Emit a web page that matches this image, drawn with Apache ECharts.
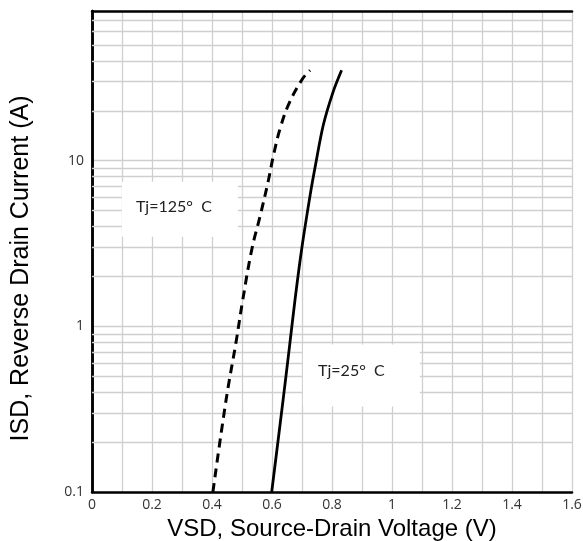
<!DOCTYPE html>
<html><head><meta charset="utf-8">
<script src="https://cdn.jsdelivr.net/npm/echarts@6/dist/echarts.min.js"></script>
<style>html,body{margin:0;padding:0;background:#fff}#c{width:583px;height:541px}</style>
</head><body><div id="c"></div>
<script>
// Data
const vsd125 = [0.403, 0.447, 0.480, 0.503, 0.533, 0.560, 0.587, 0.607, 0.630, 0.660, 0.703, 0.727];
const isd125 = [0.1, 0.36, 0.80, 1.46, 2.93, 4.6, 7.46, 11.2, 16.3, 22.8, 31.4, 35.1];
const vsd25 = [0.599, 0.637, 0.657, 0.677, 0.699, 0.727, 0.745, 0.771, 0.804, 0.832];
const isd25 = [0.1, 0.36, 0.72, 1.46, 2.93, 6.17, 9.4, 16.4, 26.1, 35.1];
const xTicks = [0, 0.2, 0.4, 0.6, 0.8, 1, 1.2, 1.4, 1.6];
const yMajor = [0.1, 1, 10];
const yMinor = [0.2,0.3,0.4,0.5,0.6,0.7,0.8,0.9,2,3,4,5,6,7,8,9,20,30,40,50,60,70];
const label125 = 'Tj=125°  C';
const label25 = 'Tj=25°  C';
const anchor125 = [0.293, 5.08];
const anchor25 = [0.898, 0.505];

const chart = echarts.init(document.getElementById('c'));
const gridCol = '#cfcfcf';
const tickFont = {color:'#333', fontSize:14, fontFamily:'Open Sans'};
chart.setOption({
  animation:false,
  grid:{left:92,right:11,top:11,bottom:49, containLabel:false, outerBoundsMode:'none'},
  xAxis:[{
    type:'value', min:0, max:1.6, interval:0.2,
    name:'VSD, Source-Drain Voltage (V)', nameLocation:'middle', nameGap:20,
    nameTextStyle:{fontSize:24, color:'#000', fontFamily:'Liberation Sans'},
    axisLine:{show:true, lineStyle:{color:'#000', width:2.5}},
    axisTick:{show:false},
    axisLabel:{...tickFont, margin:6, formatter:v=>String(+v.toFixed(1))},
    splitLine:{show:true, lineStyle:{color:gridCol, width:1.3}},
    minorTick:{show:false, splitNumber:2},
    minorSplitLine:{show:true, lineStyle:{color:gridCol, width:1.3}}
  },{
    type:'value', min:0, max:1.6, position:'top',
    axisLine:{show:true, lineStyle:{color:'#000', width:2.5}},
    axisTick:{show:false}, axisLabel:{show:false}, splitLine:{show:false}
  }],
  yAxis:[{
    type:'log', logBase:10, min:0.1, max:80,
    name:'ISD, Reverse Drain Current (A)', nameLocation:'middle', nameGap:58,
    nameTextStyle:{fontSize:25, color:'#000', fontFamily:'Liberation Sans', padding:[0,34,0,0]},
    axisLine:{show:true, lineStyle:{color:'#000', width:2.5}},
    axisTick:{show:false},
    axisLabel:{...tickFont, margin:8, showMaxLabel:false, formatter:v=>{
      const l=Math.log10(v); return Math.abs(l-Math.round(l))<1e-6 ? String(+(+v).toPrecision(3)) : '';}},
    splitLine:{show:true, lineStyle:{color:gridCol, width:1.3}}
  },{
    type:'log', logBase:10, min:0.1, max:80, position:'right',
    axisLine:{show:true, lineStyle:{color:'#000', width:2.5}},
    axisTick:{show:false}, axisLabel:{show:false}, splitLine:{show:false}
  }],
  series:[
    {type:'line', data:[], z:1, silent:true,
     markLine:{z:1, silent:true, symbol:['none','none'], label:{show:false},
       lineStyle:{color:gridCol, width:1.3, type:'solid'},
       data:yMinor.map(v=>({yAxis:v}))}},
    {type:'scatter', z:2, silent:true, symbol:'rect', symbolSize:[116,55],
     itemStyle:{color:'#fff', opacity:1},
     label:{show:true, position:'inside', offset:[-6,-3], formatter:label125, color:'#222', fontSize:16, fontFamily:'Lato'},
     data:[anchor125]},
    {type:'scatter', z:2, silent:true, symbol:'rect', symbolSize:[117,62],
     itemStyle:{color:'#fff', opacity:1},
     label:{show:true, position:'inside', offset:[-10,-5], formatter:label25, color:'#222', fontSize:16, fontFamily:'Lato'},
     data:[anchor25]},
    {type:'line', z:3, smooth:0.4, showSymbol:false, name:'125',
     lineStyle:{color:'#000', width:3, type:[9,6]},
     data:vsd125.map((v,i)=>[v,isd125[i]])},
    {type:'line', z:3, smooth:0.3, showSymbol:false, name:'25',
     lineStyle:{color:'#000', width:2.8},
     data:vsd25.map((v,i)=>[v,isd25[i]])}
  ]
});
</script></body></html>
